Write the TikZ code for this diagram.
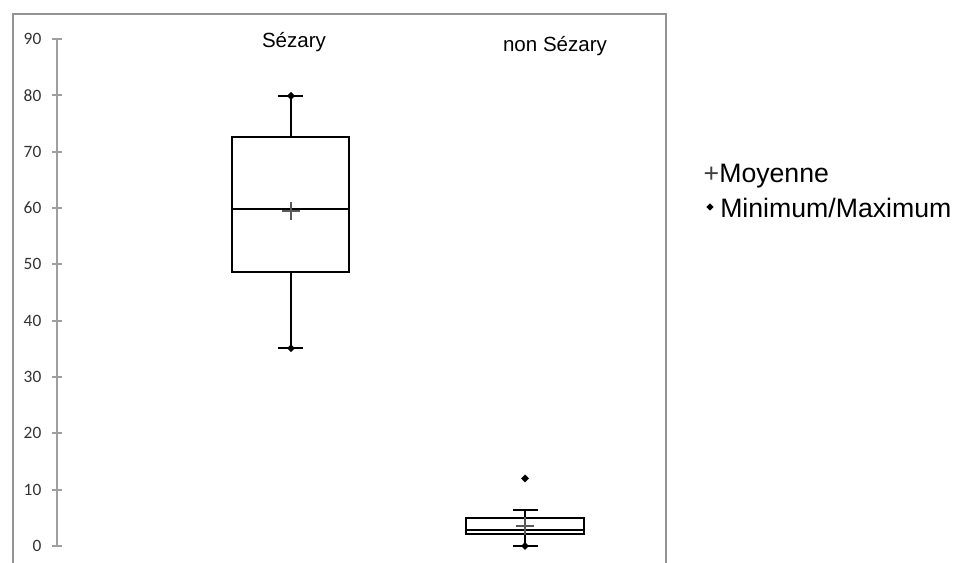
\documentclass[tikz,border=0pt]{standalone}
\usepackage{fontspec}
\setmainfont{Liberation Sans}
\newfontfamily\tickfont{Carlito}
\usetikzlibrary{shapes.geometric,shapes.misc}
\begin{document}
\begin{tikzpicture}[x=0.75pt, y=0.75pt, frame/.style={draw=gray!85, line width=1.5pt}, boite/.style={draw=black, line width=1.5pt}, moy/.style={cross out, rotate=45, draw=black!65, line width=1.4pt, minimum size=8pt, inner sep=0pt}, extr/.style={diamond, fill=black, inner sep=0pt, minimum size=6pt}]
	\useasboundingbox (0,0) rectangle (975,563);
	\draw[frame] (13,0) -- (13,549) -- (666,549) -- (666,0);
	\node[font=\fontsize{15.4}{18}\selectfont] (S) at (294,521) {Sézary};
	\node[font=\fontsize{15.4}{18}\selectfont] (N) at (555,517) {non Sézary};
	\node[anchor=base west, font=\fontsize{20}{22}\selectfont] (L1) at (699,380) {\textcolor{black!75}{+}Moyenne};
	\node[extr, minimum size=5.5pt] (L2d) at (710,356) {};
	\node[anchor=base west, font=\fontsize{20}{22}\selectfont, inner sep=0pt] (L2) at (720,345) {Minimum/Maximum};
	\begin{scope}[shift={(0,17)}, y=4.225pt]
		\draw[frame, draw=gray!75] (57,0) -- (57,90);
		\foreach \v in {0,10,...,90} {
			\draw[frame, draw=gray!75] (52,\v) -- (62,\v);
			\node[anchor=east, font=\tickfont\fontsize{13}{15}\selectfont, text=black!80] (t\v) at (46,\v) {\v};
		}
		% Sezary
		\draw[boite] (232,48.6) rectangle (349,72.6);
		\draw[boite] (232,59.8) -- (349,59.8);
		\draw[boite] (291,72.6) -- (291,79.9) (278,79.9) -- (303,79.9);
		\draw[boite] (291,48.6) -- (291,35.1) (278,35.1) -- (303,35.1);
		\node[extr] (Smax) at (291,79.9) {};
		\node[extr] (Smin) at (291,35.1) {};
		\node[moy] (Smoy) at (291,59.5) {};
		% non Sezary
		\draw[boite] (466,2.1) rectangle (584,5.0);
		\draw[boite] (466,2.8) -- (584,2.8);
		\draw[boite] (525,5.0) -- (525,6.4) (513,6.4) -- (538,6.4);
		\draw[boite] (525,2.1) -- (525,0) (513,0) -- (538,0);
		\node[extr] (Nmax) at (525,12) {};
		\node[extr] (Nmin) at (525,0) {};
		\node[moy] (Nmoy) at (525,3.6) {};
	\end{scope}
\end{tikzpicture}
\end{document}
